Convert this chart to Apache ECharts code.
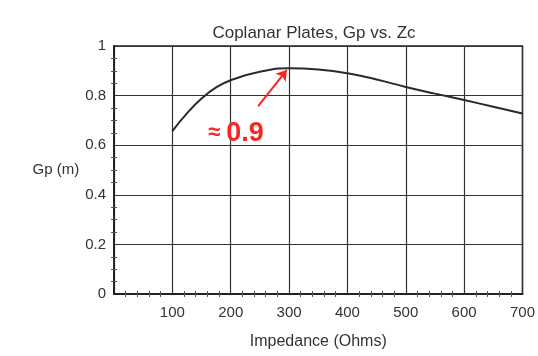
<!DOCTYPE html>
<html>
<head>
<meta charset="utf-8">
<script src="https://cdn.jsdelivr.net/npm/echarts@6/dist/echarts.min.js"></script>
<style>
    html, body {margin: 0; padding: 0; background: #fff;}
    #chart {width: 538px; height: 356px;}
</style>
</head>
<body>
<div id="chart"></div>
<script>
    // values
    var impedance = [100, 125, 150, 175, 200, 250, 300, 350, 400, 450, 500, 550, 600, 650, 700];
    var gp = [0.657, 0.728, 0.788, 0.833, 0.862, 0.896, 0.91, 0.905, 0.89, 0.865, 0.835, 0.808, 0.782, 0.755, 0.728];
    var xTicks = [100, 200, 300, 400, 500, 600, 700];
    var yTicks = [0, 0.2, 0.4, 0.6, 0.8, 1];
    // annotation: arrow from/to and text anchor
    var arrowFrom = [247, 0.758];
    var arrowTo = [296, 0.903];
    var noteAt = [209, 0.649];

    var chart = echarts.init(document.getElementById('chart'));
    var font = 'Liberation Sans, Arial, sans-serif';
    var points = impedance.map(function (v, i) {
        return [v, gp[i]];
    });

    // small ticks point into the plot (negative length flips them)
    function minor(n) {
        return {show: true, splitNumber: n, length: -3, lineStyle: {color: '#555'}};
    }

    // frame axes (top / right) only carry the small inner ticks
    function frameAxis(pos, isX) {
        var a = {
            type: 'value',
            position: pos,
            axisLine: {show: true, lineStyle: {color: '#222', width: 1.5}},
            axisTick: {show: false},
            minorTick: minor(isX ? 5 : 4),
            axisLabel: {show: false},
            splitLine: {show: false}
        };
        if (isX) {
            a.min = 0; a.max = 700; a.interval = 100;
        } else {
            a.min = 0; a.max = 1; a.interval = 0.2;
        }
        return a;
    }

    var option = {
        animation: false,
        title: {
            text: 'Coplanar Plates, Gp vs. Zc',
            left: 309,
            textAlign: 'center',
            top: 20,
            textStyle: {fontSize: 17, fontWeight: 'normal', color: '#333', fontFamily: font}
        },
        grid: {
            left: 114, right: 14, top: 46, bottom: 62,
            show: true, borderColor: '#222', borderWidth: 1.5
        },
        xAxis: [{
            type: 'value',
            min: 0, max: 700, interval: 100,
            name: 'Impedance (Ohms)',
            nameLocation: 'middle',
            nameGap: 40,
            nameTextStyle: {fontSize: 16, color: '#333', fontFamily: font},
            axisLine: {show: true, lineStyle: {color: '#222', width: 1.5}},
            axisTick: {show: false},
            minorTick: minor(5),
            axisLabel: {
                margin: 11, fontSize: 15, color: '#333', fontFamily: font,
                formatter: function (v) {
                    return xTicks.indexOf(v) >= 0 ? String(v) : '';
                }
            },
            splitLine: {show: true, lineStyle: {color: '#333', width: 1.2}}
        }, frameAxis('top', true)],
        yAxis: [{
            type: 'value',
            min: 0, max: 1, interval: 0.2,
            name: 'Gp (m)',
            nameLocation: 'middle',
            nameRotate: 0,
            nameGap: 34,
            nameTextStyle: {fontSize: 15, color: '#333', fontFamily: font, align: 'right'},
            axisLine: {show: true, lineStyle: {color: '#222', width: 1.5}},
            axisTick: {show: false},
            minorTick: minor(4),
            axisLabel: {
                margin: 8, fontSize: 15, color: '#333', fontFamily: font,
                formatter: function (v) {
                    var r = Math.round(v * 10) / 10;
                    return yTicks.indexOf(r) >= 0 ? String(r) : '';
                }
            },
            splitLine: {show: true, lineStyle: {color: '#333', width: 1.2}}
        }, frameAxis('right', false)],
        series: [{
            type: 'line',
            data: points,
            smooth: 0.5,
            symbol: 'none',
            lineStyle: {color: '#2a2a2a', width: 2},
            markLine: {
                silent: true,
                symbol: ['none', 'arrow'],
                symbolSize: 10,
                label: {show: false},
                lineStyle: {color: '#ff2222', width: 2, type: 'solid'},
                data: [[{coord: arrowFrom}, {coord: arrowTo}]]
            },
            markPoint: {
                silent: true,
                symbol: 'circle',
                symbolSize: 0,
                data: [{
                    coord: noteAt,
                    label: {
                        show: true,
                        position: 'inside',
                        formatter: '{a|≈ }{b|0.9}',
                        rich: {
                            a: {fontSize: 22, fontWeight: 'bold', color: '#ff2222', fontFamily: font},
                            b: {fontSize: 27, fontWeight: 'bold', color: '#ff2222', fontFamily: font}
                        }
                    }
                }]
            }
        }]
    };
    chart.setOption(option);
</script>
</body>
</html>
